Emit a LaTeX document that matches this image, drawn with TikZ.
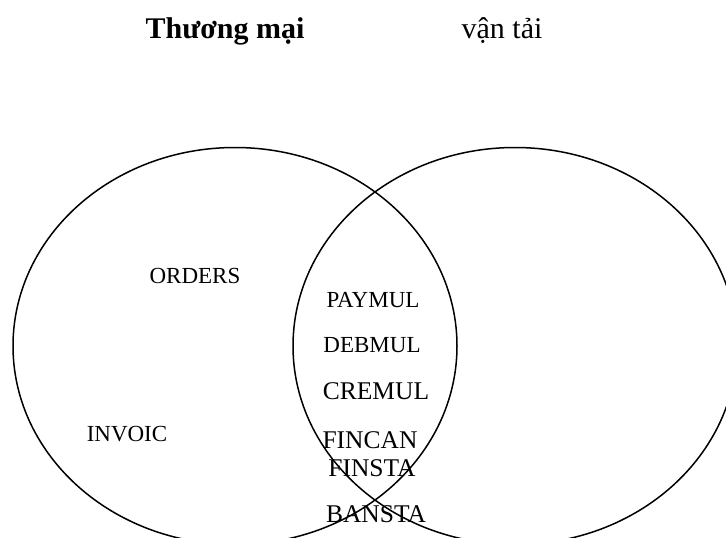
\documentclass[tikz,border=0pt]{standalone}
\usepackage{fontspec}
\setmainfont{Liberation Serif}
\usepackage{tikz}
\usetikzlibrary{shapes.geometric,positioning}

\begin{document}
\begin{tikzpicture}[x=1pt,y=-1pt,
	set node/.style={ellipse,draw,line width=1.5pt,inner sep=0pt,
		minimum width=444pt, minimum height=397pt},
	title node/.style={anchor=base,inner sep=0pt,font=\fontsize{30}{30}\selectfont},
	small node/.style={anchor=base,inner sep=0pt,font=\fontsize{23}{23}\selectfont},
	big node/.style={anchor=base,inner sep=0pt,font=\fontsize{25.5}{25.5}\selectfont}]

    \useasboundingbox (0,0) rectangle (726,538);
    \clip (0,0) rectangle (726,538);

    \node[set node] (T) at (235,346) {};
    \node[set node] (V) at (515,346) {};

    \node[title node] (tm) at (225,38) {\textbf{Thương mại}};
    \node[title node] (vt) at (502,38) {vận tải};

    \node[small node] (orders) at (195,283) {ORDERS};
    \node[small node] (invoic) at (127,441) {INVOIC};
    \node[small node] (paymul) at (373,307) {PAYMUL};
    \node[small node] (debmul) at (372,352) {DEBMUL};
    \node[big node] (cremul) at (376,399) {CREMUL};
    \node[big node] (fincan) at (370,448) {FINCAN};
    \node[big node] (finsta) at (372,476) {FINSTA};
    \node[big node] (bansta) at (376,522) {BANSTA};

\end{tikzpicture}
\end{document}
